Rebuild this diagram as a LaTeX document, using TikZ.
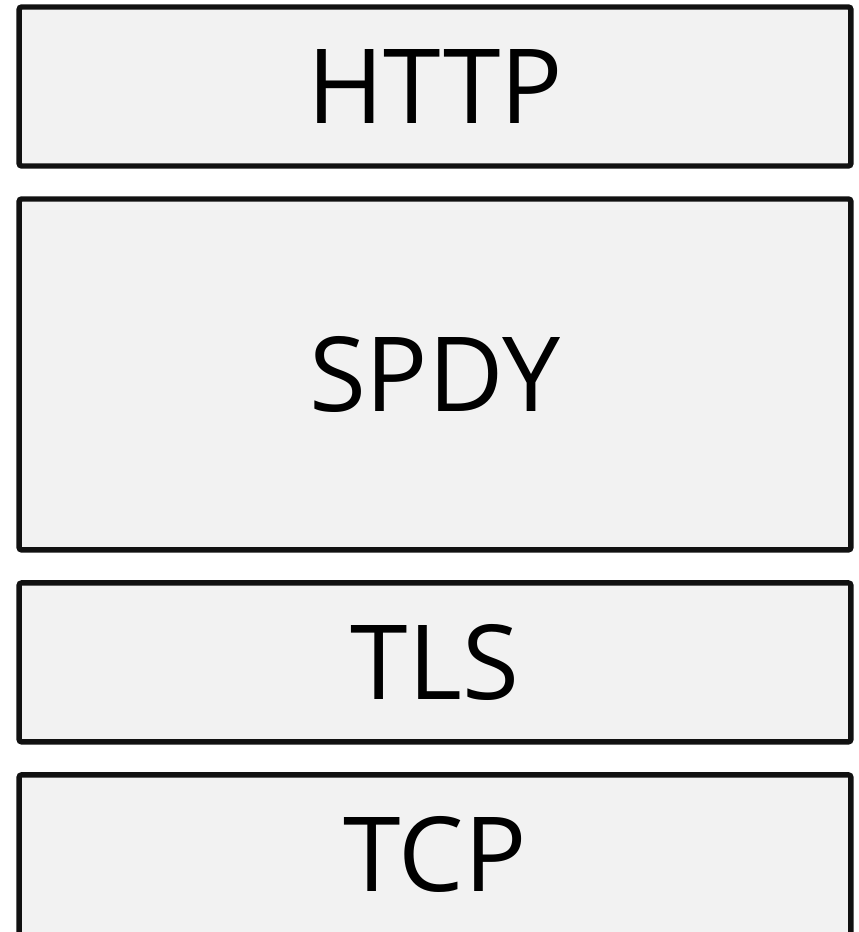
\documentclass[tikz,border=0pt]{standalone}
\usepackage{fontspec}
\setmainfont{Open Sans}
\usetikzlibrary{positioning}

\definecolor{layerfill}{HTML}{F2F2F2}
\definecolor{layerline}{HTML}{111111}

\begin{document}
\begin{tikzpicture}[x=0.02cm, y=0.02cm,
    layer/.style={draw=layerline, fill=layerfill, line width=3.1pt, rounded corners=1.5pt,
      outer sep=0pt, inner sep=0pt, minimum width=16.64cm,
      font=\fontsize{59}{68}\selectfont},
    node distance=0.66cm]
    \useasboundingbox (0,0) rectangle (858,-932);

    \node[layer, minimum height=3.18cm] (http) at (435,-86.5) {HTTP};
    \node[layer, minimum height=7.02cm, below=of http] (spdy) {SPDY};
    \node[layer, minimum height=3.18cm, below=of spdy] (tls) {TLS};
    \node[layer, minimum height=3.2cm, below=of tls] (tcp) {TCP};

  \end{tikzpicture}
\end{document}
